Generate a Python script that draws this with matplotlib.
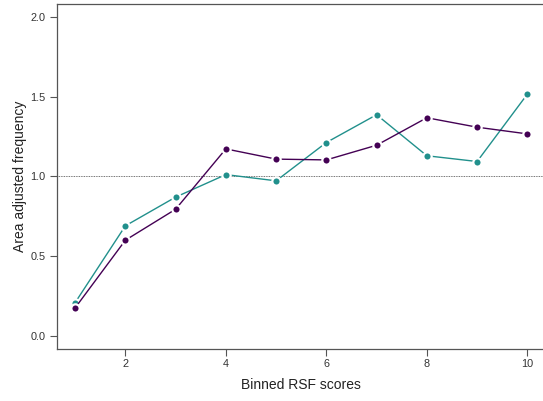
# Area adjusted frequency across binned RSF scores, two series,
# drawn in the look of an R base-graphics plot.

import numpy as np
import matplotlib.pyplot as plt

plt.rcParams['font.family'] = ['Liberation Sans', 'DejaVu Sans']

# Values.
bins = [1, 2, 3, 4, 5, 6, 7, 8, 9, 10]
freq_purple = [0.176, 0.600, 0.794, 1.172, 1.108, 1.103, 1.195, 1.367, 1.308, 1.266]
freq_teal = [0.209, 0.690, 0.870, 1.011, 0.972, 1.212, 1.386, 1.129, 1.093, 1.515]
x_ticks = [2, 4, 6, 8, 10]
y_ticks = [0.0, 0.5, 1.0, 1.5, 2.0]

purple = '#440154'
teal = '#21908C'

fig = plt.figure(figsize=(5.43, 4.01), dpi=100)
# axes runs a little past the right edge, as in the cropped reference
ax = fig.add_axes([0.105, 0.1302, 0.8995, 0.8600])

ax.axhline(1.0, color='#444444', linewidth=0.6, linestyle=(0, (1, 1)), zorder=1)

for vals, col in [(freq_teal, teal), (freq_purple, purple)]:
    ax.plot(bins, vals, color=col, linewidth=1.0, marker='o', markersize=6,
            markerfacecolor=col, markeredgecolor='white', markeredgewidth=1.6,
            zorder=3)

ax.set_xlim(0.64, 10.36)
ax.set_ylim(-0.08, 2.08)
ax.set_xticks(x_ticks)
ax.set_xticklabels([str(t) for t in x_ticks])
ax.set_yticks(y_ticks)
ax.set_yticklabels(['{:.1f}'.format(t) for t in y_ticks])

for side in ['left', 'bottom', 'top']:
    ax.spines[side].set_color('#555555')
    ax.spines[side].set_linewidth(0.9)
ax.spines['right'].set_visible(False)

ax.tick_params(axis='both', length=5, width=0.8, color='#555555',
               labelsize=7.8, labelcolor='#333333', pad=3.4)
ax.tick_params(axis='x', pad=2.6)

ax.set_xlabel('Binned RSF scores', fontsize=10, color='#222222', va='center')
ax.set_ylabel('Area adjusted frequency', fontsize=10, color='#222222', va='center')
ax.xaxis.set_label_coords(0.5, -0.105)
ax.yaxis.set_label_coords(-0.075, 0.5)

plt.savefig('out.png', dpi=100)
